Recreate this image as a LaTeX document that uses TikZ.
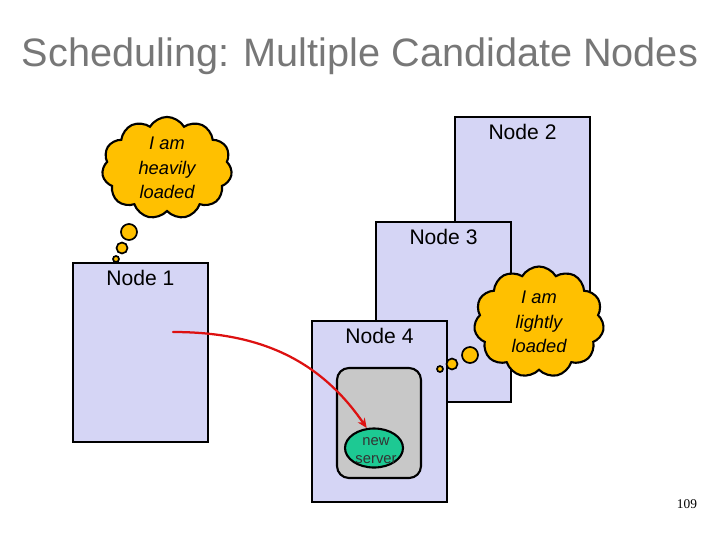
\documentclass[tikz,border=0pt]{standalone}
\usepackage{fontspec}
\setmainfont{Liberation Sans}
\newfontfamily\pagenumfont{Liberation Serif}
\usetikzlibrary{arrows.meta,positioning,shapes.symbols,shapes.geometric}
\definecolor{nodecol}{HTML}{D5D5F5}
\definecolor{thinkcol}{HTML}{FFC000}
\definecolor{vmcol}{HTML}{C8C8C8}
\definecolor{servcol}{HTML}{1DC993}
\definecolor{titlecol}{HTML}{777777}
\definecolor{movecol}{HTML}{DD1111}

\begin{document}
\begin{tikzpicture}[x=0.025cm,y=-0.025cm,
  machine/.style={draw, line width=2pt, fill=nodecol, minimum width=3.375cm, inner sep=0pt},
  mlabel/.style={font=\fontsize{15}{18}\selectfont},
  thought/.style={cloud, cloud puffs=11, cloud puff arc=120, aspect=1.3, draw, line width=1.5pt,
    fill=thinkcol, inner sep=0pt, align=center, font=\itshape\fontsize{13}{17.4}\selectfont},
  bubble/.style={circle, draw, line width=1.2pt, fill=thinkcol, inner sep=0pt}]
\useasboundingbox (0,0) rectangle (720,540);
\node[font=\fontsize{28.2}{33}\selectfont, text=titlecol] (title) at (360,56) {Scheduling: Multiple Candidate Nodes};

% machines, back to front
\node[machine, minimum height=5.7cm] (n2) at (522.5,231) {};
\node[mlabel] (n2lbl) at ([yshift=-0.4cm]n2.north) {Node 2};
\node[machine, minimum height=4.5cm] (n3) at (443.5,312) {};
\node[mlabel] (n3lbl) at ([yshift=-0.4cm]n3.north) {Node 3};
\node[machine, minimum height=4.475cm] (n1) at (140.5,352.5) {};
\node[mlabel] (n1lbl) at ([yshift=-0.4cm]n1.north) {Node 1};
\node[machine, minimum height=4.525cm] (n4) at (379.5,411.5) {};
\node[mlabel] (n4lbl) at ([yshift=-0.4cm]n4.north) {Node 4};

% virtual machine slot with the new server
\node[draw, line width=1.5pt, fill=vmcol, rounded corners=0.3cm, minimum width=2.1cm, minimum height=2.75cm] (vm) at (379,423) {};
\node[ellipse, draw, line width=1.5pt, fill=servcol, minimum width=1.45cm, minimum height=0.975cm, inner sep=0pt] (srv) at (374,448) {};
\node[align=center, text=black!80, font=\fontsize{10.5}{12.8}\selectfont] (srvlbl) at (376,451) {new\\server};

% thought clouds
\node[thought, minimum width=3.25cm, minimum height=2.5cm] (heavy) at (167,168) {I am\\heavily\\loaded};
\node[bubble, minimum size=0.4cm] (h1) at (129,232) {};
\node[bubble, minimum size=0.275cm] (h2) at (122,248) {};
\node[bubble, minimum size=0.15cm] (h3) at (116,259) {};

\node[thought, minimum width=3.25cm, minimum height=2.775cm] (light) at (539,322) {I am\\lightly\\loaded};
\node[bubble, minimum size=0.4cm] (l1) at (470,355) {};
\node[bubble, minimum size=0.275cm] (l2) at (452,364) {};
\node[bubble, minimum size=0.15cm] (l3) at (440,369) {};

% migration
\coordinate (src) at (173,332);
\draw[movecol, line width=1.6pt, line cap=round, -{Stealth[length=7pt,width=6pt]}]
  (src) .. controls (260,332) and (320,360) .. (srv.110);

\node[font=\pagenumfont\fontsize{9.5}{11}\selectfont] (pg) at (687,504) {109};
\end{tikzpicture}
\end{document}
